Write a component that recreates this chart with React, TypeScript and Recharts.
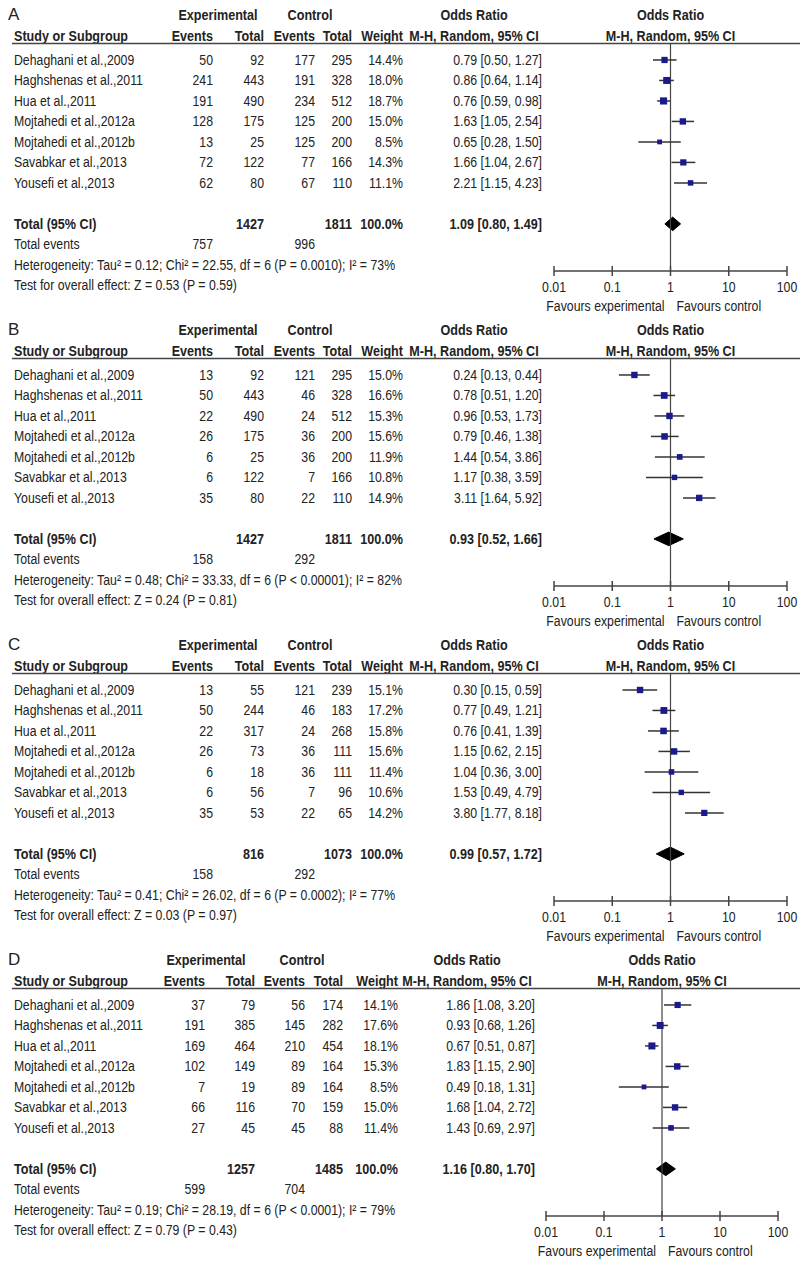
import React from 'react';
import { ComposedChart, XAxis, YAxis, Scatter, ErrorBar, Area, ReferenceLine } from 'recharts';

// ---------- data ----------
const studyNames = [
  'Dehaghani et al.,2009',
  'Haghshenas et al.,2011',
  'Hua et al.,2011',
  'Mojtahedi et al.,2012a',
  'Mojtahedi et al.,2012b',
  'Savabkar et al.,2013',
  'Yousefi et al.,2013',
];
const axisTicks = [0.01, 0.1, 1, 10, 100];
const axisTickLabels = ['0.01', '0.1', '1', '10', '100'];

// Panel A
const aExpEvents = [50, 241, 191, 128, 13, 72, 62];
const aExpTotal = [92, 443, 490, 175, 25, 122, 80];
const aCtlEvents = [177, 191, 234, 125, 125, 77, 67];
const aCtlTotal = [295, 328, 512, 200, 200, 166, 110];
const aWeights = [14.4, 18.0, 18.7, 15.0, 8.5, 14.3, 11.1];
const aOR = [0.79, 0.86, 0.76, 1.63, 0.65, 1.66, 2.21];
const aLo = [0.5, 0.64, 0.59, 1.05, 0.28, 1.04, 1.15];
const aHi = [1.27, 1.14, 0.98, 2.54, 1.5, 2.67, 4.23];
const aTotals = [1427, 1811];
const aTotalEvents = [757, 996];
const aPooled = [1.09, 0.8, 1.49];
const aHet = 'Heterogeneity: Tau\u00b2 = 0.12; Chi\u00b2 = 22.55, df = 6 (P = 0.0010); I\u00b2 = 73%';
const aTest = 'Test for overall effect: Z = 0.53 (P = 0.59)';

// Panel B
const bExpEvents = [13, 50, 22, 26, 6, 6, 35];
const bExpTotal = [92, 443, 490, 175, 25, 122, 80];
const bCtlEvents = [121, 46, 24, 36, 36, 7, 22];
const bCtlTotal = [295, 328, 512, 200, 200, 166, 110];
const bWeights = [15.0, 16.6, 15.3, 15.6, 11.9, 10.8, 14.9];
const bOR = [0.24, 0.78, 0.96, 0.79, 1.44, 1.17, 3.11];
const bLo = [0.13, 0.51, 0.53, 0.46, 0.54, 0.38, 1.64];
const bHi = [0.44, 1.2, 1.73, 1.38, 3.86, 3.59, 5.92];
const bTotals = [1427, 1811];
const bTotalEvents = [158, 292];
const bPooled = [0.93, 0.52, 1.66];
const bHet = 'Heterogeneity: Tau\u00b2 = 0.48; Chi\u00b2 = 33.33, df = 6 (P < 0.00001); I\u00b2 = 82%';
const bTest = 'Test for overall effect: Z = 0.24 (P = 0.81)';

// Panel C
const cExpEvents = [13, 50, 22, 26, 6, 6, 35];
const cExpTotal = [55, 244, 317, 73, 18, 56, 53];
const cCtlEvents = [121, 46, 24, 36, 36, 7, 22];
const cCtlTotal = [239, 183, 268, 111, 111, 96, 65];
const cWeights = [15.1, 17.2, 15.8, 15.6, 11.4, 10.6, 14.2];
const cOR = [0.3, 0.77, 0.76, 1.15, 1.04, 1.53, 3.8];
const cLo = [0.15, 0.49, 0.41, 0.62, 0.36, 0.49, 1.77];
const cHi = [0.59, 1.21, 1.39, 2.15, 3.0, 4.79, 8.18];
const cTotals = [816, 1073];
const cTotalEvents = [158, 292];
const cPooled = [0.99, 0.57, 1.72];
const cHet = 'Heterogeneity: Tau\u00b2 = 0.41; Chi\u00b2 = 26.02, df = 6 (P = 0.0002); I\u00b2 = 77%';
const cTest = 'Test for overall effect: Z = 0.03 (P = 0.97)';

// Panel D
const dExpEvents = [37, 191, 169, 102, 7, 66, 27];
const dExpTotal = [79, 385, 464, 149, 19, 116, 45];
const dCtlEvents = [56, 145, 210, 89, 89, 70, 45];
const dCtlTotal = [174, 282, 454, 164, 164, 159, 88];
const dWeights = [14.1, 17.6, 18.1, 15.3, 8.5, 15.0, 11.4];
const dOR = [1.86, 0.93, 0.67, 1.83, 0.49, 1.68, 1.43];
const dLo = [1.08, 0.68, 0.51, 1.15, 0.18, 1.04, 0.69];
const dHi = [3.2, 1.26, 0.87, 2.9, 1.31, 2.72, 2.97];
const dTotals = [1257, 1485];
const dTotalEvents = [599, 704];
const dPooled = [1.16, 0.8, 1.7];
const dHet = 'Heterogeneity: Tau\u00b2 = 0.19; Chi\u00b2 = 28.19, df = 6 (P < 0.0001); I\u00b2 = 79%';
const dTest = 'Test for overall effect: Z = 0.79 (P = 0.43)';

const panels = [
  { label: 'A', ev1: aExpEvents, tot1: aExpTotal, ev2: aCtlEvents, tot2: aCtlTotal, w: aWeights, or: aOR, lo: aLo, hi: aHi, totals: aTotals, totalEvents: aTotalEvents, pooled: aPooled, het: aHet, test: aTest },
  { label: 'B', ev1: bExpEvents, tot1: bExpTotal, ev2: bCtlEvents, tot2: bCtlTotal, w: bWeights, or: bOR, lo: bLo, hi: bHi, totals: bTotals, totalEvents: bTotalEvents, pooled: bPooled, het: bHet, test: bTest },
  { label: 'C', ev1: cExpEvents, tot1: cExpTotal, ev2: cCtlEvents, tot2: cCtlTotal, w: cWeights, or: cOR, lo: cLo, hi: cHi, totals: cTotals, totalEvents: cTotalEvents, pooled: cPooled, het: cHet, test: cTest },
  { label: 'D', ev1: dExpEvents, tot1: dExpTotal, ev2: dCtlEvents, tot2: dCtlTotal, w: dWeights, or: dOR, lo: dLo, hi: dHi, totals: dTotals, totalEvents: dTotalEvents, pooled: dPooled, het: dHet, test: dTest },
];

// ---------- layout ----------
const FONT = "'Liberation Sans', Arial, sans-serif";
const FS = 15;
const SX = 0.82;
const SX_BOLD = 0.84;
const TEXT = '#222';
const LINE = '#444';
const SQUARE = '#1a1a8c';
const ROW_PX = 20.5;
const ROW0 = 60;
const Y_MIN = -2.6;
const Y_MAX = 10.3;
const HEAD1 = -2.2;
const HEAD2 = -1.15;
const HEAD_LINE = -0.8;
const TOTAL_ROW = 8;
const EVENTS_ROW = 9;
const HET_ROW = 10;
const X_AXIS_H = 46;
const panelTops = [0, 315, 630, 945];

const layoutABC = { name: 14, ev1: 213, tot1: 264, ev2: 315, tot2: 352, w: 403, or: 542, orHead: 474, expHead: 218, ctlHead: 310, plotL: 554, plotR: 787 };
const layoutD = { name: 14, ev1: 205, tot1: 255, ev2: 305, tot2: 343, w: 398, or: 535, orHead: 467, expHead: 206, ctlHead: 302, plotL: 546, plotR: 778 };
const panelLayouts = [layoutABC, layoutABC, layoutABC, layoutD];

const fmtOR = (o: number, l: number, h: number) => `${o.toFixed(2)} [${l.toFixed(2)}, ${h.toFixed(2)}]`;

function T(props: any) {
  const { children, bold, anchor, size, x, y, sx } = props;
  const s = sx ?? (bold ? SX_BOLD : SX);
  return (
    <text
      transform={`translate(${x},${y}) scale(${s},1)`}
      x={0}
      y={0}
      fontFamily={FONT}
      fontSize={size || FS}
      fontWeight={bold ? 'bold' : 'normal'}
      fill={TEXT}
      textAnchor={anchor || 'start'}
    >
      {children}
    </text>
  );
}

function renderRow(props: any, p: any, lay: any) {
  const { y, payload } = props;
  const v = payload.value;
  const ty = y + 5;
  const plotMid = (lay.plotL + lay.plotR) / 2;
  if (v === HEAD1) {
    return (
      <g>
        <T x={8} y={ty} size={17} sx={1}>{p.label}</T>
        <T x={lay.expHead} y={ty} anchor="middle" bold>Experimental</T>
        <T x={lay.ctlHead} y={ty} anchor="middle" bold>Control</T>
        <T x={lay.orHead} y={ty} anchor="middle" bold>Odds Ratio</T>
        <T x={plotMid} y={ty} anchor="middle" bold>Odds Ratio</T>
      </g>
    );
  }
  if (v === HEAD2) {
    const ly = y + (HEAD_LINE - HEAD2) * ROW_PX;
    return (
      <g>
        <T x={lay.name} y={ty} bold>Study or Subgroup</T>
        <T x={lay.ev1} y={ty} anchor="end" bold>Events</T>
        <T x={lay.tot1} y={ty} anchor="end" bold>Total</T>
        <T x={lay.ev2} y={ty} anchor="end" bold>Events</T>
        <T x={lay.tot2} y={ty} anchor="end" bold>Total</T>
        <T x={lay.w} y={ty} anchor="end" bold>Weight</T>
        <T x={lay.orHead} y={ty} anchor="middle" bold>M-H, Random, 95% CI</T>
        <T x={plotMid} y={ty} anchor="middle" bold>M-H, Random, 95% CI</T>
        <line x1={12} x2={800} y1={ly} y2={ly} stroke={LINE} strokeWidth={1.5} />
      </g>
    );
  }
  if (v === TOTAL_ROW) {
    return (
      <g>
        <T x={lay.name} y={ty} bold>Total (95% CI)</T>
        <T x={lay.tot1} y={ty} anchor="end" bold>{p.totals[0]}</T>
        <T x={lay.tot2} y={ty} anchor="end" bold>{p.totals[1]}</T>
        <T x={lay.w} y={ty} anchor="end" bold>100.0%</T>
        <T x={lay.or} y={ty} anchor="end" bold>{fmtOR(p.pooled[0], p.pooled[1], p.pooled[2])}</T>
      </g>
    );
  }
  if (v === EVENTS_ROW) {
    return (
      <g>
        <T x={lay.name} y={ty}>Total events</T>
        <T x={lay.ev1} y={ty} anchor="end">{p.totalEvents[0]}</T>
        <T x={lay.ev2} y={ty} anchor="end">{p.totalEvents[1]}</T>
      </g>
    );
  }
  if (v === HET_ROW) {
    return (
      <g>
        <T x={lay.name} y={ty}>{p.het}</T>
        <T x={lay.name} y={ty + ROW_PX}>{p.test}</T>
      </g>
    );
  }
  const i = v;
  if (i >= 0 && i < studyNames.length) {
    return (
      <g>
        <T x={lay.name} y={ty}>{studyNames[i]}</T>
        <T x={lay.ev1} y={ty} anchor="end">{p.ev1[i]}</T>
        <T x={lay.tot1} y={ty} anchor="end">{p.tot1[i]}</T>
        <T x={lay.ev2} y={ty} anchor="end">{p.ev2[i]}</T>
        <T x={lay.tot2} y={ty} anchor="end">{p.tot2[i]}</T>
        <T x={lay.w} y={ty} anchor="end">{p.w[i].toFixed(1)}%</T>
        <T x={lay.or} y={ty} anchor="end">{fmtOR(p.or[i], p.lo[i], p.hi[i])}</T>
      </g>
    );
  }
  return <g />;
}

function renderXTick(props: any) {
  const { x, y, payload, index } = props;
  const label = axisTickLabels[index] ?? String(payload.value);
  return (
    <g>
      <line x1={x} x2={x} y1={y - 5} y2={y + 5} stroke={LINE} strokeWidth={1.5} />
      <T x={x} y={y + 21} anchor="middle">{label}</T>
      {payload.value === 1 && (
        <g>
          <T x={x - 6} y={y + 40} anchor="end">Favours experimental</T>
          <T x={x + 6} y={y + 40}>Favours control</T>
        </g>
      )}
    </g>
  );
}

function renderSquare(props: any) {
  const { cx, cy, payload } = props;
  const s = 1.65 * Math.sqrt(payload.w);
  return <rect x={cx - s / 2} y={cy - s / 2} width={s} height={s} fill={SQUARE} />;
}

function Panel({ p, lay }: { p: any; lay: any }) {
  const marginTop = ROW0 + Y_MIN * ROW_PX;
  const plotH = (Y_MAX - Y_MIN) * ROW_PX;
  const height = Math.round(marginTop + plotH + X_AXIS_H);
  const points = p.or.map((o: number, i: number) => ({
    x: o,
    y: i,
    w: p.w[i],
    ci: [o - p.lo[i], p.hi[i] - o],
  }));
  const diamond = [
    { x: p.pooled[1], band: [TOTAL_ROW, TOTAL_ROW] },
    { x: p.pooled[0], band: [TOTAL_ROW - 0.33, TOTAL_ROW + 0.33] },
    { x: p.pooled[2], band: [TOTAL_ROW, TOTAL_ROW] },
  ];
  const yTicks = [HEAD1, HEAD2, 0, 1, 2, 3, 4, 5, 6, TOTAL_ROW, EVENTS_ROW, HET_ROW];
  return (
    <ComposedChart
      width={800}
      height={height}
      margin={{ top: marginTop, right: 800 - lay.plotR, bottom: 0, left: lay.plotL - 1 }}
    >
      <XAxis
        type="number"
        dataKey="x"
        scale="log"
        domain={[0.01, 100]}
        allowDataOverflow
        ticks={axisTicks}
        interval={0}
        tickLine={false}
        tickSize={0}
        tickMargin={0}
        axisLine={{ stroke: LINE, strokeWidth: 1.5 }}
        height={X_AXIS_H}
        tick={renderXTick}
      />
      <YAxis
        type="number"
        dataKey="y"
        domain={[Y_MIN, Y_MAX]}
        reversed
        allowDataOverflow
        ticks={yTicks}
        interval={0}
        width={1}
        axisLine={false}
        tickLine={false}
        tick={(props: any) => renderRow(props, p, lay)}
      />
      <ReferenceLine
        segment={[{ x: 1, y: HEAD_LINE }, { x: 1, y: Y_MAX }]}
        stroke={LINE}
        strokeWidth={1.2}
        ifOverflow="visible"
      />
      <Scatter data={points} shape={renderSquare} isAnimationActive={false}>
        <ErrorBar dataKey="ci" direction="x" width={0} stroke="#333" strokeWidth={1.5} />
      </Scatter>
      <Area
        data={diamond}
        dataKey="band"
        type="linear"
        fill="#000"
        fillOpacity={1}
        stroke="#000"
        strokeWidth={1}
        dot={false}
        activeDot={false}
        isAnimationActive={false}
      />
    </ComposedChart>
  );
}

export default function App() {
  return (
    <div style={{ position: 'absolute', left: 0, top: 0, width: 800, height: 1266, background: '#fff' }}>
      {panels.map((p, i) => (
        <div key={p.label} style={{ position: 'absolute', left: 0, top: panelTops[i] }}>
          <Panel p={p} lay={panelLayouts[i]} />
        </div>
      ))}
    </div>
  );
}
